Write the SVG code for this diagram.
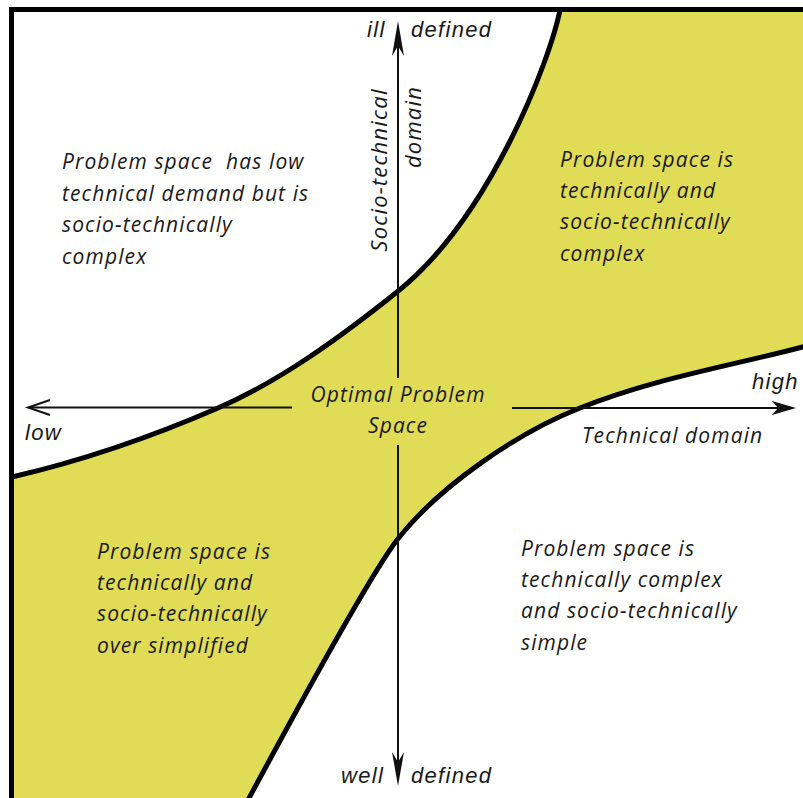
<svg xmlns="http://www.w3.org/2000/svg" width="803" height="798" viewBox="0 0 803 798">
  <defs>
    <style>
      .fill { fill: #e1dc56; stroke: none; }
      .curve { fill: none; stroke: #000; stroke-width: 5; stroke-linecap: round; }
      .frame { fill: none; stroke: #000; stroke-width: 5; }
      .axis { fill: none; stroke: #111; stroke-width: 2; }
      .head { fill: #111; stroke: none; }
      .t { font-family: "Open Sans", "DejaVu Sans", sans-serif; font-style: italic; font-size: 21px; letter-spacing: 1.1px; fill: #1a1a1a; }
      .v { font-size: 22px; letter-spacing: 1.2px; }
      .a { font-family: "Liberation Sans", Arial, sans-serif; font-style: italic; font-size: 22px; letter-spacing: 1.3px; fill: #1a1a1a; }
    </style>
  </defs>
  <rect x="0" y="0" width="803" height="798" fill="#ffffff"/>

  <g id="regions">
    <path class="fill" d="M12,477 C81,461 149,438 218,408 C278,382 337,340 397,292 C490,218 550,60 560,10 L803,10 L806,346 C731,366 655,378 580,408 C519,432 440,485 397,540 C365,582 275,750 248,800 L12,800 Z"/>
    <path class="curve" d="M12,477 C81,461 149,438 218,408 C278,382 337,340 397,292 C490,218 550,60 560,10"/>
    <path class="curve" d="M806,346 C731,366 655,378 580,408 C519,432 440,485 397,540 C365,582 275,750 248,800"/>
    <path class="frame" d="M11.5,800 L11.5,9.5 L803,9.5"/>
  </g>

  <g id="connectors">
    <line class="axis" x1="398" y1="40" x2="398" y2="378"/>
    <line class="axis" x1="398" y1="445" x2="398" y2="770"/>
    <line class="axis" x1="30" y1="407.5" x2="292" y2="407.5"/>
    <line class="axis" x1="512" y1="408" x2="785" y2="408"/>
    <path class="head" d="M398,21 L404,56 L398,46 L392,56 Z"/>
    <path class="head" d="M398,786 L404,752 L398,762 L392,752 Z"/>
    <path class="axis" d="M50,400 L28,407.5 L50,415"/>
    <path class="head" d="M796,408 L772,401 L778,408 L772,415 Z"/>
  </g>

  <g id="axis-labels">
    <text class="a" x="367" y="37">ill</text>
    <text class="a" x="411" y="37">defined</text>
    <text class="a" x="341" y="783">well</text>
    <text class="a" x="411" y="783">defined</text>
    <text class="a" x="25" y="440">low</text>
    <text class="a" x="752" y="389">high</text>
    <text class="t" x="582" y="443">Technical domain</text>
    <text class="t v" transform="translate(387,170) rotate(-90)" text-anchor="middle">Socio-technical</text>
    <text class="t v" transform="translate(421,127) rotate(-90)" text-anchor="middle">domain</text>
  </g>

  <g id="q-top-left">
    <text class="t" x="62" y="169" xml:space="preserve">Problem space  has low</text>
    <text class="t" x="62" y="201">technical demand but is</text>
    <text class="t" x="62" y="232">socio-technically</text>
    <text class="t" x="62" y="264">complex</text>
  </g>

  <g id="q-top-right">
    <text class="t" x="560" y="167">Problem space is</text>
    <text class="t" x="560" y="198">technically and</text>
    <text class="t" x="560" y="229">socio-technically</text>
    <text class="t" x="560" y="261">complex</text>
  </g>

  <g id="q-center">
    <text class="t" x="398" y="402" text-anchor="middle">Optimal Problem</text>
    <text class="t" x="398" y="433" text-anchor="middle">Space</text>
  </g>

  <g id="q-bottom-left">
    <text class="t" x="97" y="559">Problem space is</text>
    <text class="t" x="97" y="590">technically and</text>
    <text class="t" x="97" y="621">socio-technically</text>
    <text class="t" x="97" y="653">over simplified</text>
  </g>

  <g id="q-bottom-right">
    <text class="t" x="521" y="556">Problem space is</text>
    <text class="t" x="521" y="587">technically complex</text>
    <text class="t" x="521" y="618">and socio-technically</text>
    <text class="t" x="521" y="650">simple</text>
  </g>
</svg>
